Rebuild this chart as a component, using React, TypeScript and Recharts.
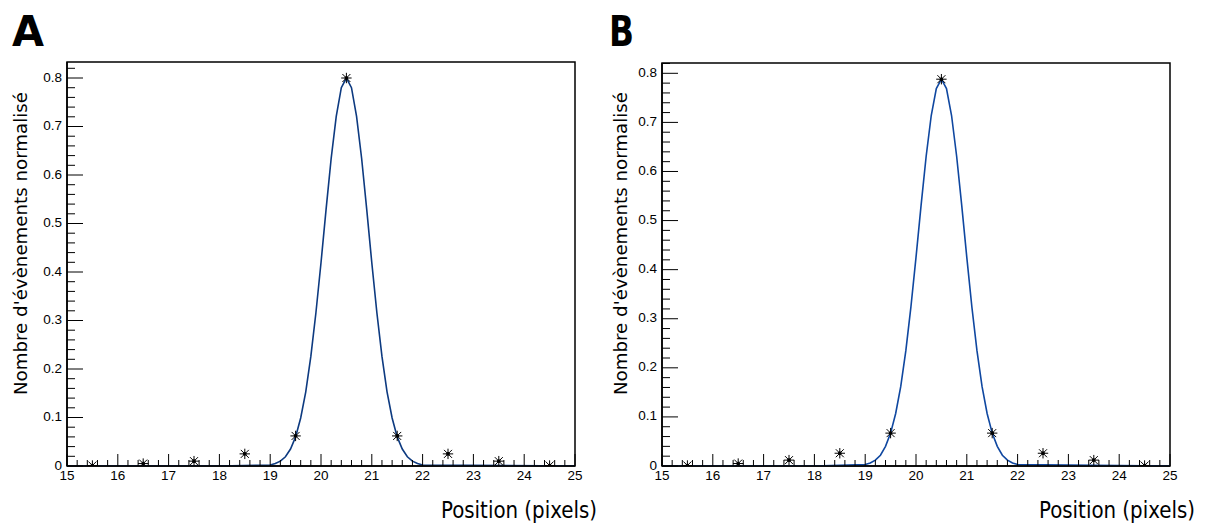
import { ComposedChart, Line, Scatter, XAxis, YAxis, ReferenceArea } from 'recharts';

// tick labels
const xMajor = [15, 16, 17, 18, 19, 20, 21, 22, 23, 24, 25];
const yLabels = ['0', '0.1', '0.2', '0.3', '0.4', '0.5', '0.6', '0.7', '0.8'];

// measured points (pixel centres)
const positions = [15.5, 16.5, 17.5, 18.5, 19.5, 20.5, 21.5, 22.5, 23.5, 24.5];
const countsA = [0.001, 0.005, 0.01, 0.025, 0.062, 0.8, 0.062, 0.025, 0.01, 0.001];
const countsB = [0.001, 0.005, 0.012, 0.026, 0.067, 0.788, 0.067, 0.026, 0.012, 0.001];

// fitted curve
const fitX = [
  15, 18, 19, 19.1, 19.2, 19.3, 19.4, 19.5, 19.6, 19.7, 19.8, 19.9, 20, 20.1, 20.2, 20.3, 20.4, 20.5,
  20.6, 20.7, 20.8, 20.9, 21, 21.1, 21.2, 21.3, 21.4, 21.5, 21.6, 21.7, 21.8, 21.9, 22, 25,
];
const fitA = [
  0, 0, 0.002, 0.005, 0.01, 0.019, 0.035, 0.06, 0.099, 0.153, 0.226, 0.316, 0.419, 0.529, 0.634, 0.721, 0.78, 0.8,
  0.78, 0.721, 0.634, 0.529, 0.419, 0.316, 0.226, 0.153, 0.099, 0.06, 0.035, 0.019, 0.01, 0.005, 0.002, 0,
];
const fitB = [
  0, 0, 0.003, 0.006, 0.012, 0.022, 0.04, 0.067, 0.107, 0.162, 0.235, 0.324, 0.425, 0.531, 0.631, 0.714, 0.769, 0.788,
  0.769, 0.714, 0.631, 0.531, 0.425, 0.324, 0.235, 0.162, 0.107, 0.067, 0.04, 0.022, 0.012, 0.006, 0.003, 0,
];

const tickFont = '"Liberation Sans", Arial, sans-serif';
const titleFont = '"Liberation Sans Narrow", "DejaVu Sans Condensed", "Liberation Sans", sans-serif';

// minor ticks: 5 subdivisions between majors
const xTicks: number[] = [];
xMajor.forEach((v, i) => {
  if (i === xMajor.length - 1) { xTicks.push(v); return; }
  for (let k = 0; k < 5; k++) xTicks.push(+(v + k * 0.2).toFixed(3));
});

function yTicksFor(top: number) {
  const out: number[] = [];
  for (let k = 0; k * 0.02 <= top + 1e-9; k++) out.push(+(k * 0.02).toFixed(3));
  return out;
}

const XTick = (props: any) => {
  const { x, y, payload } = props;
  const v = payload.value;
  const major = Math.abs(v - Math.round(v)) < 1e-6;
  return (
    <g>
      <line x1={x} y1={y} x2={x} y2={y - (major ? 12 : 6)} stroke="#000" strokeWidth={1} />
      {major && (
        <text x={x} y={y + 14} textAnchor="middle" fontSize={13.5} fontFamily={tickFont} fill="#000">
          {Math.round(v)}
        </text>
      )}
    </g>
  );
};

const YTick = (props: any) => {
  const { x, y, payload } = props;
  const v = payload.value;
  const idx = Math.round(v * 10);
  const major = Math.abs(v * 10 - idx) < 1e-6 && idx < yLabels.length;
  return (
    <g>
      <line x1={x} y1={y} x2={x + (major ? 16 : 8)} y2={y} stroke="#000" strokeWidth={1} />
      {major && (
        <text x={x - 5} y={y + 3.5} textAnchor="end" fontSize={13.5} fontFamily={tickFont} fill="#000">
          {yLabels[idx]}
        </text>
      )}
    </g>
  );
};

// ROOT-style asterisk marker
const Star = (props: any) => {
  const { cx, cy } = props;
  const r = 5.2;
  const d = 4;
  return (
    <g stroke="#000" strokeWidth={1}>
      <line x1={cx - r} y1={cy} x2={cx + r} y2={cy} />
      <line x1={cx} y1={cy - r} x2={cx} y2={cy + r} />
      <line x1={cx - d} y1={cy - d} x2={cx + d} y2={cy + d} />
      <line x1={cx - d} y1={cy + d} x2={cx + d} y2={cy - d} />
      <circle cx={cx} cy={cy} r={1.4} fill="#000" />
    </g>
  );
};

interface PanelProps {
  left: number;
  width: number;
  top: number;
  right: number;
  yAxisWidth: number;
  yTop: number;
  fit: number[];
  counts: number[];
  color: string;
}

function Panel({ left, width, top, right, yAxisWidth, yTop, fit, counts, color }: PanelProps) {
  const curve = fitX.map((x, i) => ({ x, y: fit[i] }));
  const pts = positions.map((x, i) => ({ x, y: counts[i] }));
  return (
    <div style={{ position: 'absolute', left, top: 0, width, height: 526 }}>
      <ComposedChart width={width} height={526} data={curve} margin={{ top, right, bottom: 0, left: 0 }}>
        <XAxis
          type="number"
          dataKey="x"
          domain={[15, 25]}
          ticks={xTicks}
          interval={0}
          tickSize={0}
          tickMargin={0}
          tick={<XTick />}
          height={60}
          axisLine={{ stroke: '#000', strokeWidth: 1.5 }}
          allowDataOverflow
        />
        <YAxis
          type="number"
          domain={[0, yTop]}
          ticks={yTicksFor(yTop)}
          interval={0}
          tickSize={0}
          tickMargin={0}
          tick={<YTick />}
          width={yAxisWidth}
          axisLine={{ stroke: '#000', strokeWidth: 1.5 }}
          allowDataOverflow
        />
        <ReferenceArea x1={15} x2={25} y1={0} y2={yTop} fill="none" stroke="#000" strokeWidth={1.5} ifOverflow="visible" />
        <Line type="linear" dataKey="y" stroke={color} strokeWidth={1.6} dot={false} isAnimationActive={false} />
        <Scatter data={pts} dataKey="y" shape={<Star />} isAnimationActive={false} />
      </ComposedChart>
    </div>
  );
}

export default function App() {
  return (
    <div style={{ position: 'absolute', left: 0, top: 0, width: 1205, height: 526, background: '#fff' }}>
      <Panel left={0} width={600} top={62} right={25} yAxisWidth={67} yTop={0.833} fit={fitA} counts={countsA} color="#0d3a80" />
      <Panel left={600} width={605} top={63} right={35} yAxisWidth={62} yTop={0.821} fit={fitB} counts={countsB} color="#0f47a0" />
      <svg width={1205} height={526} style={{ position: 'absolute', left: 0, top: 0, pointerEvents: 'none' }}>
        <text x={12} y={46} fontSize={43} fontWeight={900} fontFamily='"DejaVu Sans", sans-serif' textLength={32} lengthAdjust="spacingAndGlyphs">A</text>
        <text x={609} y={46} fontSize={43} fontWeight={900} fontFamily='"DejaVu Sans", sans-serif' textLength={25} lengthAdjust="spacingAndGlyphs">B</text>
        <text x={597} y={518} textAnchor="end" fontSize={23} fontFamily={titleFont} textLength={156} lengthAdjust="spacingAndGlyphs">Position (pixels)</text>
        <text x={1195} y={518} textAnchor="end" fontSize={23} fontFamily={titleFont} textLength={156} lengthAdjust="spacingAndGlyphs">Position (pixels)</text>
        <text transform="translate(27,395) rotate(-90)" fontSize={18.5} fontFamily={titleFont} textLength={303} lengthAdjust="spacingAndGlyphs">Nombre d'évènements normalisé</text>
        <text transform="translate(627,395) rotate(-90)" fontSize={18.5} fontFamily={titleFont} textLength={303} lengthAdjust="spacingAndGlyphs">Nombre d'évènements normalisé</text>
      </svg>
    </div>
  );
}
